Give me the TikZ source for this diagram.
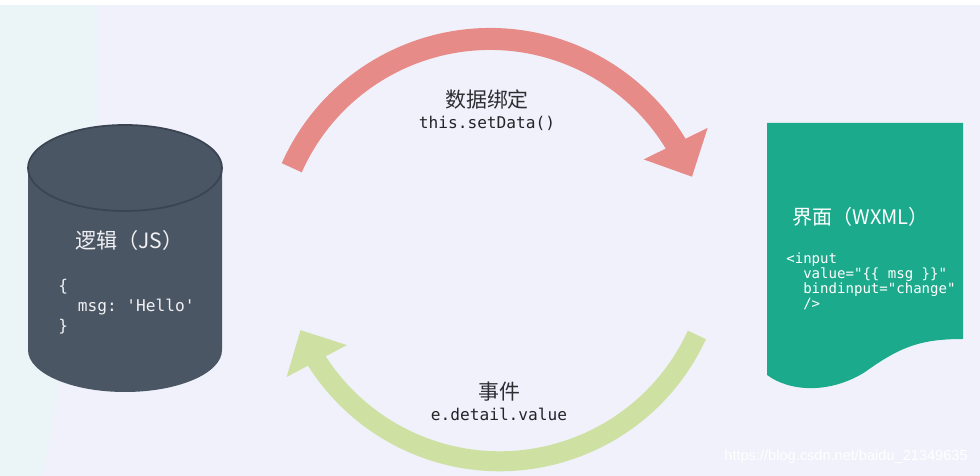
\documentclass[tikz,border=0pt]{standalone}
\usepackage{fontspec}
\setmainfont{Noto Sans CJK SC}
\setmonofont{DejaVu Sans Mono}
\newfontfamily\wmfont{Liberation Sans}
\usetikzlibrary{arrows.meta,bending,positioning}

\definecolor{bgcol}{RGB}{240,241,251}
\definecolor{bgleft}{RGB}{235,245,248}
\definecolor{dbcol}{RGB}{75,86,101}
\definecolor{dbline}{RGB}{58,68,82}
\definecolor{pagecol}{RGB}{27,170,140}
\definecolor{bindcol}{RGB}{231,139,136}
\definecolor{eventcol}{RGB}{207,224,163}
\definecolor{labelcol}{RGB}{45,45,50}

\begin{document}
\begin{tikzpicture}[x=0.02cm,y=0.02cm]
\tikzstyle{title}=[inner sep=0, font=\fontsize{12pt}{14pt}\selectfont]
\tikzstyle{code}=[inner sep=0, align=left, font=\ttfamily\fontsize{9.2pt}{11.4pt}\selectfont]
\tikzstyle{arclabel}=[inner sep=0, text=labelcol, font=\fontsize{11.9pt}{14pt}\selectfont]
\tikzstyle{arccode}=[inner sep=0, text=labelcol!80!black, font=\ttfamily\fontsize{9.2pt}{11pt}\selectfont]
\tikzstyle{bindarrow}=[bindcol, line width=0.44cm, -{Triangle[width=1.38cm,length=0.74cm]}]
\tikzstyle{eventarrow}=[eventcol, line width=0.40cm, -{Triangle[width=1.32cm,length=0.70cm]}]

%%%%%%%%%%%%%%%%%%%%%%%%%%%%%%
%%%%% FONDO
\fill[bgcol] (0,0) rectangle (980,476);
\fill[bgleft] (0,0) -- (43,0) -- (97,300) -- (97,471) -- (0,471) -- cycle;
\fill[white] (0,471) rectangle (980,476);
\useasboundingbox (0,0) rectangle (980,476);

%%%%%%%%%%%%%%%%%%%%%%%%%%%%%%
%%%%% LOGICA (JS)
\fill[dbcol] (28,308) -- (28,126) arc[start angle=180, end angle=360, x radius=97, y radius=42]
  -- (222,308) arc[start angle=0, end angle=180, x radius=97, y radius=43] -- cycle;
\draw[dbline, line width=1pt] (125,308) ellipse[x radius=97, y radius=43];

\coordinate (jstitle) at (75,236);
\coordinate (jscode) at (58,169);

\node[title, text=white!92!dbcol, anchor=west] (jstitle) at (jstitle) {逻辑（JS）};
\node[code, text=white!92!dbcol, anchor=west] (jscode) at (jscode)
  {\{\\\phantom{ab}msg: 'Hello'\\\}};

%%%%%%%%%%%%%%%%%%%%%%%%%%%%%%
%%%%% INTERFAZ (WXML)
\fill[pagecol] (767,353) -- (963,353) -- (963,137)
  .. controls (920,137) and (900,129) .. (865,104)
  .. controls (830,82) and (790,84) .. (767,101) -- cycle;

\coordinate (wxtitle) at (792,259);
\coordinate (wxcode) at (786,195);

\node[title, text=white, anchor=west, font=\fontsize{11.4pt}{14pt}\selectfont] (wxtitle) at (wxtitle) {界面（WXML）};
\node[code, text=white, anchor=west, font=\ttfamily\fontsize{8pt}{8.55pt}\selectfont] (wxcode) at (wxcode)
  {<input\\\phantom{ab}value="\{\{ msg \}\}"\\\phantom{ab}bindinput="change"\\\phantom{ab}/>};

%%%%%%%%%%%%%%%%%%%%%%%%%%%%%%
%%%%% FLECHAS
\coordinate (bindc) at (490,220);
\coordinate (eventc) at (497,233);

% enlace de datos
\draw[bindarrow] ([shift={(156:217)}]bindc) arc[start angle=156, end angle=21.4, radius=217];
\node[arclabel] (bindtitle) at (487,376) {数据绑定};
\node[arccode, below=3.5pt of bindtitle] (bindcode) {this.setData()};

% evento
\draw[eventarrow] ([shift={(-24.7:220)}]eventc) arc[start angle=-24.7, end angle=-156.7, radius=217];
\node[arclabel] (eventtitle) at (499,84) {事件};
\node[arccode, below=3.5pt of eventtitle] (eventcode) {e.detail.value};

%%%%% MARCA DE AGUA
\node[inner sep=0, anchor=east, text=white, font=\wmfont\fontsize{8.3pt}{10pt}\selectfont] (wmark) at (968,19) {https://blog.csdn.net/baidu\_21349635};

\end{tikzpicture}
\end{document}
